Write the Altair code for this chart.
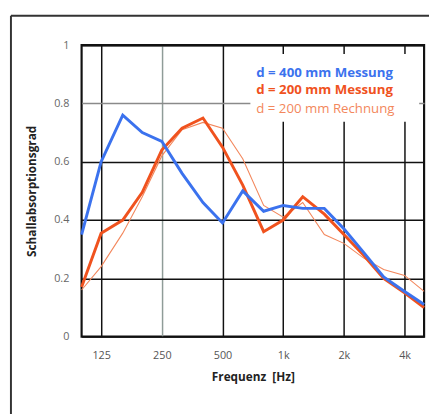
import altair as alt
import pandas as pd

freqs = [100, 125, 160, 200, 250, 315, 400, 500, 630, 800, 1000, 1250, 1600, 2000, 2500, 3150, 4000, 5000]
d400_messung = [0.35, 0.60, 0.76, 0.70, 0.67, 0.56, 0.46, 0.39, 0.50, 0.43, 0.45, 0.44, 0.44, 0.37, 0.29, 0.205, 0.155, 0.11]
d200_messung = [0.17, 0.355, 0.40, 0.495, 0.64, 0.715, 0.75, 0.65, 0.52, 0.36, 0.40, 0.48, 0.42, 0.35, 0.28, 0.20, 0.15, 0.10]
d200_rechnung = [0.16, 0.24, 0.355, 0.48, 0.62, 0.71, 0.735, 0.715, 0.61, 0.45, 0.41, 0.46, 0.35, 0.32, 0.27, 0.23, 0.21, 0.155]

x_ticks = [125, 250, 500, 1000, 2000, 4000]
x_tick_labels = ["125", "250", "500", "1k", "2k", "4k"]
y_ticks = [0, 0.2, 0.4, 0.6, 0.8, 1]
legend_labels = ["d = 400 mm Messung", "d = 200 mm Messung", "d = 200 mm Rechnung"]

BLUE = "#3b72ee"
RED = "#f0521e"
LIGHT = "#f3875c"
FONT = "Open Sans"

rows = []
for name, vals in [("d400", d400_messung), ("d200m", d200_messung), ("d200r", d200_rechnung)]:
    for f, v in zip(freqs, vals):
        rows.append({"f": f, "a": v, "s": name})
df = pd.DataFrame(rows)

label_expr = "{" + ",".join(f"'{t}':'{l}'" for t, l in zip(x_ticks, x_tick_labels)) + "}[datum.value]"

xscale = alt.Scale(type="log", base=2, domain=[100, 5000], nice=False)
yscale = alt.Scale(domain=[0, 1], nice=False)

xenc = alt.X("f:Q", scale=xscale, title="Frequenz\u00a0\u00a0[Hz]",
             axis=alt.Axis(values=x_ticks, labelExpr=label_expr, ticks=False, domain=False,
                           grid=True,
                           gridColor={"condition": {"test": "datum.value == 250", "value": "#8f9c98"}, "value": "#111111"},
                           gridWidth=1.5, labelPadding=13, labelColor="#555", labelFontSize=11,
                           labelFont=FONT, titleFont=FONT, titleFontSize=12, titleFontWeight="bold",
                           titlePadding=12, titleColor="#222"))
yenc = alt.Y("a:Q", scale=yscale, title="Schallabsorptionsgrad",
             axis=alt.Axis(values=y_ticks, ticks=False, domain=False, grid=True,
                           gridColor={"condition": {"test": "datum.value == 0.8", "value": "#8a8a8a"}, "value": "#111111"},
                           gridWidth=1.5, labelPadding=13, labelColor="#666", labelFontSize=11,
                           labelFont=FONT, titleFont=FONT, titleFontSize=12, titleFontWeight="bold",
                           titlePadding=16, titleColor="#222",
                           labelExpr="datum.value == 0 ? '0' : datum.value == 1 ? '1' : format(datum.value, '.1f')"))

base = alt.Chart(df)

thin = base.transform_filter(alt.datum.s == "d200r").mark_line(color=LIGHT, strokeWidth=1.1).encode(x=xenc, y=yenc)
red = base.transform_filter(alt.datum.s == "d200m").mark_line(color=RED, strokeWidth=3).encode(x=xenc, y=yenc)
blue = base.transform_filter(alt.datum.s == "d400").mark_line(color=BLUE, strokeWidth=3).encode(x=xenc, y=yenc)

legend_box = alt.Chart(pd.DataFrame({"k": [0]})).mark_rect(color="white").encode(
    x=alt.value(172), x2=alt.value(344), y=alt.value(9), y2=alt.value(78))

leg_df = pd.DataFrame({"t": legend_labels, "i": [0, 1, 2]})
leg_colors = [BLUE, RED, LIGHT]
leg_weights = ["bold", "bold", "normal"]
leg_y = [28, 46, 65]
legend_texts = []
for i in range(3):
    legend_texts.append(
        alt.Chart(leg_df.iloc[[i]]).mark_text(align="left", baseline="middle", font=FONT,
                                               fontSize=13.5, fontWeight=leg_weights[i], color=leg_colors[i])
        .encode(x=alt.value(178), y=alt.value(leg_y[i]), text="t:N"))

frame_df = pd.DataFrame({"k": [0]})
frame_left = alt.Chart(frame_df).mark_rule(color="#333", strokeWidth=2).encode(
    x=alt.value(-72), y=alt.value(-30), y2=alt.value(400))
frame_top = alt.Chart(frame_df).mark_rule(color="#333", strokeWidth=2).encode(
    x=alt.value(-72), x2=alt.value(360), y=alt.value(-30))

chart = alt.layer(thin, red, blue, legend_box, *legend_texts, frame_left, frame_top).properties(
    width=349, height=297,
    autosize=alt.AutoSizeParams(type="none"),
    padding={"left": 75, "top": 34, "right": 5, "bottom": 75},
).configure_view(stroke="#111", strokeWidth=2.2)

chart.save("out.html", embed_options={"renderer": "svg", "actions": False})
